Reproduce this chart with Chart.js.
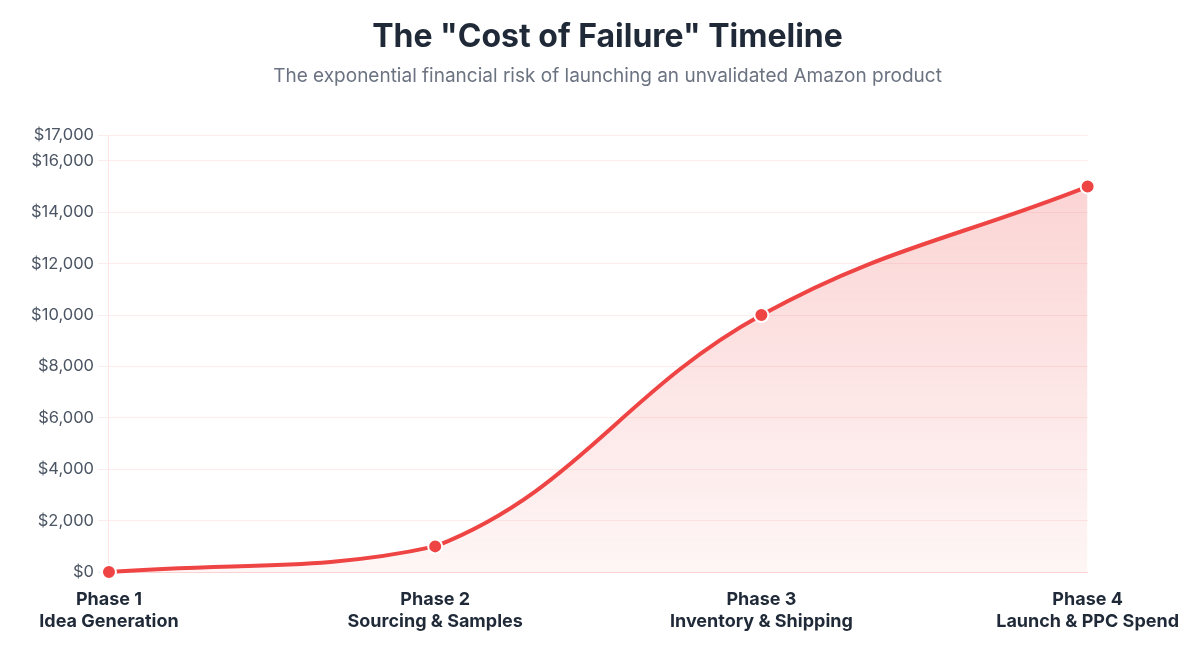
<!DOCTYPE html>
<html>
<head>
<meta charset="utf-8">
<script src="https://cdn.jsdelivr.net/npm/chart.js@4.4.0/dist/chart.umd.min.js"></script>
<style>
    html, body { margin: 0; padding: 0; background: #ffffff; }
    .wrap { position: relative; width: 1200px; height: 655px; box-sizing: border-box; padding: 0 12px 0 0; }
</style>
</head>
<body>
<div class="wrap">
    <canvas id="costChart"></canvas>
</div>
<script>
// Datos del gráfico
const phases = [
    ['Phase 1', 'Idea Generation'],
    ['Phase 2', 'Sourcing & Samples'],
    ['Phase 3', 'Inventory & Shipping'],
    ['Phase 4', 'Launch & PPC Spend']
];
const costValues = [0, 1000, 10000, 15000];
const yTickValues = [0, 2000, 4000, 6000, 8000, 10000, 12000, 14000, 16000, 17000];

const red = '#ef4444';

const ctx = document.getElementById('costChart').getContext('2d');

new Chart(ctx, {
    type: 'line',
    data: {
        labels: phases,
        datasets: [{
            label: 'Cost at Risk',
            data: costValues,
            borderColor: red,
            borderWidth: 4,
            tension: 0.4,
            clip: false, // que el primer punto no quede cortado
            fill: true,
            backgroundColor: (context) => {
                const area = context.chart.chartArea;
                if (!area) return 'rgba(239, 68, 68, 0.15)';
                const g = context.chart.ctx.createLinearGradient(0, area.top, 0, area.bottom);
                g.addColorStop(0, 'rgba(239, 68, 68, 0.25)');
                g.addColorStop(1, 'rgba(239, 68, 68, 0.05)');
                return g;
            },
            pointRadius: 7,
            pointHoverRadius: 7,
            pointBackgroundColor: red,
            pointBorderColor: '#ffffff',
            pointBorderWidth: 2
        }]
    },
    options: {
        responsive: true,
        maintainAspectRatio: false,
        animation: false,
        layout: { padding: { top: 0, bottom: 13, left: 27 } },
        plugins: {
            legend: { display: false },
            title: {
                display: true,
                text: 'The "Cost of Failure" Timeline',
                color: '#1f2937',
                font: { family: 'Inter', size: 32, weight: 'bold' },
                padding: { top: 18, bottom: 8 }
            },
            subtitle: {
                display: true,
                text: 'The exponential financial risk of launching an unvalidated Amazon product',
                color: '#6b7280',
                font: { family: 'Inter', size: 19 },
                padding: { bottom: 48 }
            },
            tooltip: { enabled: false }
        },
        scales: {
            x: {
                grid: { display: false },
                border: { color: 'rgba(239, 68, 68, 0.15)' },
                ticks: {
                    color: '#1f2937',
                    font: { family: 'Inter', size: 18, weight: 'bold', lineHeight: 1.22 },
                    maxRotation: 0,
                    padding: 9
                }
            },
            y: {
                min: 0,
                max: yTickValues[yTickValues.length - 1],
                grid: { color: 'rgba(239, 68, 68, 0.1)', tickLength: 11 },
                border: { color: 'rgba(239, 68, 68, 0.15)' },
                afterBuildTicks: (scale) => {
                    scale.ticks = yTickValues.map(v => ({ value: v }));
                },
                ticks: {
                    color: '#4b5563',
                    padding: 4,
                    font: { family: 'Inter', size: 16.5 },
                    callback: (v) => '$' + v.toLocaleString('en-US')
                }
            }
        }
    }
});
</script>
</body>
</html>
